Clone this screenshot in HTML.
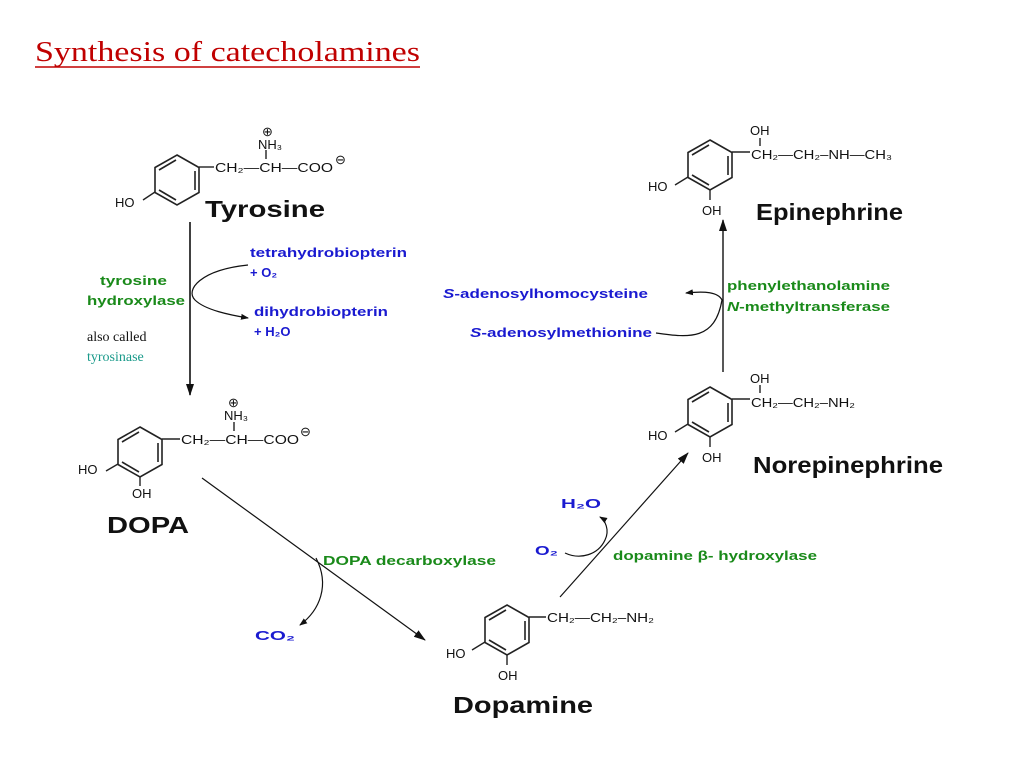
<!DOCTYPE html>
<html><head><style>
body{margin:0;background:#fff}
svg{display:block}
.c{font-family:"Liberation Sans",sans-serif;font-size:13px;fill:#111}
.n{font-family:"Liberation Sans",sans-serif;font-size:23px;font-weight:bold;fill:#111}
.g{font-family:"Liberation Sans",sans-serif;font-size:13px;font-weight:bold;fill:#1a8a1a}
.b{font-family:"Liberation Sans",sans-serif;font-size:13px;font-weight:bold;fill:#1a1ad0}
</style></head><body>
<svg width="1024" height="768" viewBox="0 0 1024 768">
<defs>
<g id="ring" stroke="#222" stroke-width="1.6" fill="none">
<polygon points="0,-25 22,-12.5 22,12.5 0,25 -22,12.5 -22,-12.5"/>
<line x1="-18" y1="-10" x2="-1" y2="-20"/>
<line x1="18" y1="-9" x2="18" y2="10"/>
<line x1="-18" y1="10" x2="-1" y2="20"/>
</g>
<marker id="ah" markerWidth="12" markerHeight="10" refX="11" refY="5" orient="auto" markerUnits="userSpaceOnUse"><path d="M0,1 L12,5 L0,9z" fill="#111"/></marker>
<marker id="sa" markerWidth="8" markerHeight="8" refX="7" refY="4" orient="auto" markerUnits="userSpaceOnUse"><path d="M0,1 L8,4 L0,7z" fill="#111"/></marker>
</defs>
<text x="35" y="61" font-family="Liberation Serif" font-size="29" fill="#c00000" textLength="385" lengthAdjust="spacingAndGlyphs">Synthesis of catecholamines</text>
<line x1="35" y1="67" x2="420" y2="67" stroke="#c00000" stroke-width="1.5"/>

<!-- Tyrosine -->
<use href="#ring" x="177" y="180"/>
<g stroke="#222" stroke-width="1.4"><line x1="155" y1="192" x2="143" y2="200"/><line x1="199" y1="167" x2="214" y2="167"/><line x1="266" y1="150" x2="266" y2="159"/></g>
<text class="c" x="115" y="207">HO</text>
<text class="c" x="215" y="172" textLength="118" lengthAdjust="spacingAndGlyphs">CH₂—CH—COO</text>
<text class="c" x="335" y="164" font-size="10">⊖</text>
<text class="c" x="258" y="149">NH₃</text><text class="c" x="262" y="136" font-size="9">⊕</text>
<text class="n" x="205" y="217" textLength="120" lengthAdjust="spacingAndGlyphs">Tyrosine</text>

<line x1="190" y1="222" x2="190" y2="395" stroke="#111" stroke-width="1.6" marker-end="url(#ah)"/>
<path d="M248,265 C200,270 185,290 195,300 C205,310 230,315 248,318" fill="none" stroke="#111" stroke-width="1.2" marker-end="url(#sa)"/>
<text class="b" x="250" y="257" textLength="157" lengthAdjust="spacingAndGlyphs">tetrahydrobiopterin</text>
<text class="b" x="250" y="277">+ O₂</text>
<text class="b" x="254" y="316" textLength="134" lengthAdjust="spacingAndGlyphs">dihydrobiopterin</text>
<text class="b" x="254" y="336">+ H₂O</text>
<text class="g" x="100" y="285" textLength="67" lengthAdjust="spacingAndGlyphs">tyrosine</text>
<text class="g" x="87" y="305" textLength="98" lengthAdjust="spacingAndGlyphs">hydroxylase</text>
<text x="87" y="341" font-family="Liberation Serif" font-size="14" fill="#111">also called</text>
<text x="87" y="361" font-family="Liberation Serif" font-size="14" fill="#1a9a8a">tyrosinase</text>

<!-- DOPA -->
<use href="#ring" x="140" y="452"/>
<g stroke="#222" stroke-width="1.4"><line x1="118" y1="464" x2="106" y2="471"/><line x1="140" y1="477" x2="140" y2="486"/><line x1="162" y1="439" x2="180" y2="439"/><line x1="234" y1="422" x2="234" y2="431"/></g>
<text class="c" x="78" y="474">HO</text><text class="c" x="132" y="498">OH</text>
<text class="c" x="181" y="444" textLength="118" lengthAdjust="spacingAndGlyphs">CH₂—CH—COO</text>
<text class="c" x="300" y="436" font-size="10">⊖</text>
<text class="c" x="224" y="420">NH₃</text><text class="c" x="228" y="407" font-size="9">⊕</text>
<text class="n" x="107" y="533" textLength="82" lengthAdjust="spacingAndGlyphs">DOPA</text>

<line x1="202" y1="478" x2="425" y2="640" stroke="#111" stroke-width="1.2" marker-end="url(#ah)"/>
<path d="M316,558 C330,585 320,610 300,625" fill="none" stroke="#111" stroke-width="1.2" marker-end="url(#sa)"/>
<text class="g" x="323" y="565" textLength="173" lengthAdjust="spacingAndGlyphs">DOPA decarboxylase</text>
<text class="b" x="255" y="640" font-size="17" textLength="40" lengthAdjust="spacingAndGlyphs">CO₂</text>

<!-- Dopamine -->
<use href="#ring" x="507" y="630"/>
<g stroke="#222" stroke-width="1.4"><line x1="485" y1="642" x2="472" y2="650"/><line x1="507" y1="655" x2="507" y2="665"/><line x1="529" y1="617" x2="546" y2="617"/></g>
<text class="c" x="446" y="658">HO</text><text class="c" x="498" y="680">OH</text>
<text class="c" x="547" y="622" textLength="107" lengthAdjust="spacingAndGlyphs">CH₂—CH₂–NH₂</text>
<text class="n" x="453" y="713" textLength="140" lengthAdjust="spacingAndGlyphs">Dopamine</text>

<line x1="560" y1="597" x2="688" y2="453" stroke="#111" stroke-width="1.2" marker-end="url(#ah)"/>
<path d="M565,553 C580,560 598,555 605,540 C610,530 605,520 600,517" fill="none" stroke="#111" stroke-width="1.2" marker-end="url(#sa)"/>
<text class="b" x="535" y="555" font-size="17" textLength="23" lengthAdjust="spacingAndGlyphs">O₂</text>
<text class="b" x="561" y="508" font-size="17" textLength="40" lengthAdjust="spacingAndGlyphs">H₂O</text>
<text class="g" x="613" y="560" textLength="204" lengthAdjust="spacingAndGlyphs">dopamine β- hydroxylase</text>

<!-- Norepinephrine -->
<use href="#ring" x="710" y="412"/>
<g stroke="#222" stroke-width="1.4"><line x1="688" y1="424" x2="675" y2="432"/><line x1="710" y1="437" x2="710" y2="447"/><line x1="732" y1="399" x2="750" y2="399"/><line x1="760" y1="385" x2="760" y2="393"/></g>
<text class="c" x="648" y="440">HO</text><text class="c" x="702" y="462">OH</text>
<text class="c" x="750" y="383">OH</text>
<text class="c" x="751" y="407" textLength="104" lengthAdjust="spacingAndGlyphs">CH₂—CH₂–NH₂</text>
<text class="n" x="753" y="473" textLength="190" lengthAdjust="spacingAndGlyphs">Norepinephrine</text>

<line x1="723" y1="372" x2="723" y2="220" stroke="#111" stroke-width="1.4" marker-end="url(#ah)"/>
<path d="M656,333 C690,338 715,340 722,300 C718,292 705,291 686,293" fill="none" stroke="#111" stroke-width="1.2" marker-end="url(#sa)"/>
<text class="b" x="443" y="298" textLength="205" lengthAdjust="spacingAndGlyphs"><tspan font-style="italic">S</tspan>-adenosylhomocysteine</text>
<text class="b" x="470" y="337" textLength="182" lengthAdjust="spacingAndGlyphs"><tspan font-style="italic">S</tspan>-adenosylmethionine</text>
<text class="g" x="727" y="290" textLength="163" lengthAdjust="spacingAndGlyphs">phenylethanolamine</text>
<text class="g" x="727" y="311" textLength="163" lengthAdjust="spacingAndGlyphs"><tspan font-style="italic">N</tspan>-methyltransferase</text>

<!-- Epinephrine -->
<use href="#ring" x="710" y="165"/>
<g stroke="#222" stroke-width="1.4"><line x1="688" y1="177" x2="675" y2="185"/><line x1="710" y1="190" x2="710" y2="200"/><line x1="732" y1="152" x2="750" y2="152"/><line x1="760" y1="138" x2="760" y2="146"/></g>
<text class="c" x="648" y="191">HO</text><text class="c" x="702" y="215">OH</text>
<text class="c" x="750" y="135">OH</text>
<text class="c" x="751" y="159" textLength="141" lengthAdjust="spacingAndGlyphs">CH₂—CH₂–NH—CH₃</text>
<text class="n" x="756" y="220" textLength="147" lengthAdjust="spacingAndGlyphs">Epinephrine</text>
</svg>
</body></html>
